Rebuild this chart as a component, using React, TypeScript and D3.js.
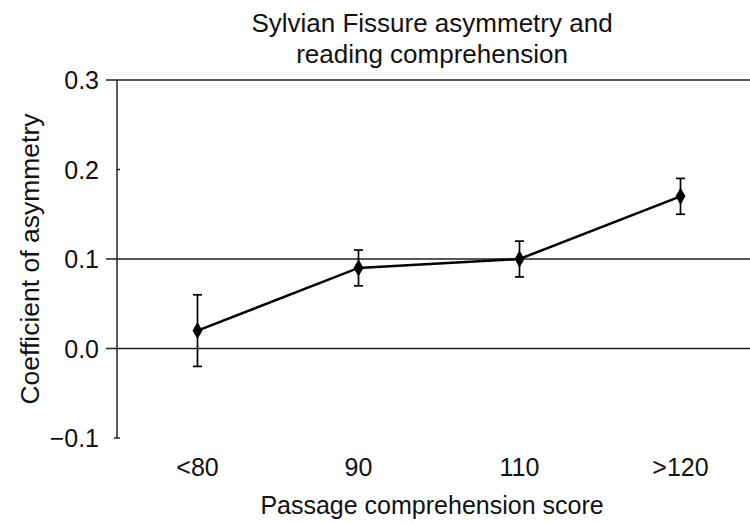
import React from 'react';
import * as d3 from 'd3';

const categories = ['<80', '90', '110', '>120'];
const means = [0.02, 0.09, 0.1, 0.17];
const errLow = [-0.02, 0.07, 0.08, 0.15];
const errHigh = [0.06, 0.11, 0.12, 0.19];
const yTicks = [-0.1, 0.0, 0.1, 0.2, 0.3];
const gridValues = [0.0, 0.1, 0.3];

const W = 750;
const H = 523;
const FONT = '"Liberation Sans", Arial, Helvetica, sans-serif';

export default function App() {
  const axisX = 117;
  const x = d3.scaleBand<string>().domain(categories).range([axisX, 761]);
  const y = d3.scaleLinear().domain([-0.1, 0.3]).range([438, 80]);
  const cx = (c: string) => (x(c) ?? 0) + x.bandwidth() / 2;

  const pts = categories.map((c, i) => ({ c, v: means[i], lo: errLow[i], hi: errHigh[i] }));
  const line = d3.line<typeof pts[number]>().x(d => cx(d.c)).y(d => y(d.v));
  const diamond = d3.symbol().type(d3.symbolDiamond).size(85)();

  return (
    <svg width={W} height={H} style={{ position: 'absolute', left: 0, top: 0, background: '#fff' }}>
      <g fontFamily={FONT} fill="#111" fontSize={26}>
        <text x={432} y={32} textAnchor="middle">Sylvian Fissure asymmetry and</text>
        <text x={432} y={63} textAnchor="middle">reading comprehension</text>
      </g>

      {/* gridlines */}
      {gridValues.map(v => (
        <line key={v} x1={106} x2={W} y1={y(v)} y2={y(v)} stroke="#222" strokeWidth={1.5} />
      ))}
      {/* y axis */}
      <line x1={axisX} x2={axisX} y1={y(0.3)} y2={y(-0.1)} stroke="#222" strokeWidth={1.5} />
      <line x1={axisX} x2={axisX + 3} y1={y(0.2)} y2={y(0.2)} stroke="#222" strokeWidth={1.5} />
      <line x1={axisX - 3} x2={axisX + 3} y1={y(-0.1)} y2={y(-0.1)} stroke="#222" strokeWidth={1.5} />

      <g fontFamily={FONT} fontSize={25} fill="#111">
        {yTicks.map(t => (
          <text key={t} x={99} y={y(t)} dy="0.36em" textAnchor="end">
            {t < 0 ? '\u2212' + Math.abs(t).toFixed(1) : t.toFixed(1)}
          </text>
        ))}
        {categories.map(c => (
          <text key={c} x={cx(c)} y={476} textAnchor="middle">{c}</text>
        ))}
        <text x={432} y={514} textAnchor="middle">Passage comprehension score</text>
        <text transform={`translate(39, ${y(0.1)}) rotate(-90)`} textAnchor="middle" fontSize={26.5}>Coefficient of asymmetry</text>
      </g>

      {/* error bars */}
      {pts.map(d => (
        <g key={d.c} stroke="#000" strokeWidth={1.7}>
          <line x1={cx(d.c)} x2={cx(d.c)} y1={y(d.hi)} y2={y(d.lo)} />
          <line x1={cx(d.c) - 4.5} x2={cx(d.c) + 4.5} y1={y(d.hi)} y2={y(d.hi)} />
          <line x1={cx(d.c) - 4.5} x2={cx(d.c) + 4.5} y1={y(d.lo)} y2={y(d.lo)} />
        </g>
      ))}
      <path d={line(pts) ?? ''} fill="none" stroke="#000" strokeWidth={2.5} />
      {pts.map(d => (
        <path key={d.c} d={diamond ?? ''} transform={`translate(${cx(d.c)},${y(d.v)})`} fill="#000" />
      ))}
    </svg>
  );
}
